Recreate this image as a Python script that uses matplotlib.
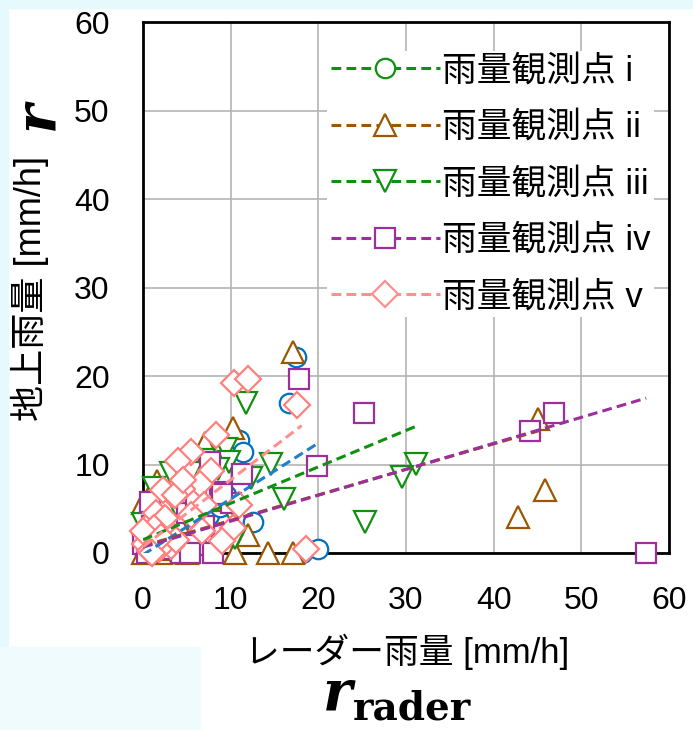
import matplotlib
matplotlib.use('Agg')
import matplotlib.pyplot as plt
from matplotlib.lines import Line2D
from matplotlib.patches import Rectangle

plt.rcParams['font.family'] = ['Liberation Sans', 'Noto Sans CJK JP']

# --- data (radar rain vs ground rain, mm/h) ---
labels = ['雨量観測点 i', '雨量観測点 ii', '雨量観測点 iii', '雨量観測点 iv', '雨量観測点 v']

x_i = [17.4, 16.6, 10.9, 11.4, 12.6, 20.0, 18.1, 7.5, 8.8, 0.2, 0.8, 1.5, 2.2, 3.0, 4.1, 5.0, 6.2, 0.5, 1.2, 2.8, 9.5]
y_i = [22.2, 16.9, 12.8, 11.4, 3.5, 0.4, 0.0, 4.3, 5.2, 0.0, 0.6, 1.2, 0.3, 2.0, 1.0, 2.5, 3.0, 1.8, 2.5, 0.5, 6.5]

x_ii = [17.1, 10.3, 45.1, 45.8, 42.8, 10.5, 14.3, 17.1, 5.0, 1.6, 0.0, 5.2, 7.1, 0.0, 1.0, 2.0, 3.0, 4.0, 6.0, 8.0, 0.5, 2.5, 12.0]
y_ii = [22.7, 14.1, 15.1, 7.1, 4.1, 0.0, 0.0, 0.0, 0.0, 8.1, 5.6, 9.2, 12.4, 0.0, 1.0, 0.0, 2.5, 3.5, 5.0, 6.0, 2.0, 0.5, 2.0]

x_iii = [11.7, 9.5, 9.8, 14.6, 12.3, 16.1, 9.9, 5.5, 3.2, 1.2, 0.0, 10.5, 31.1, 29.6, 25.3, 7.0, 2.0, 0.5, 4.0, 8.5, 1.5, 6.0, 0.0]
y_iii = [17.0, 11.7, 10.3, 10.1, 8.5, 6.1, 5.0, 9.0, 9.0, 7.4, 3.3, 1.7, 10.1, 8.6, 3.5, 10.5, 2.0, 1.0, 5.0, 9.5, 3.0, 4.0, 1.0]

x_iv = [17.8, 25.2, 19.8, 44.2, 46.9, 57.4, 11.3, 7.6, 8.8, 10.0, 6.1, 8.0, 4.3, 0.8, 0.0, 9.0, 2.0, 3.0, 1.0, 5.0, 7.0, 0.5, 2.5, 6.0, 5.4]
y_iv = [19.7, 15.8, 9.8, 13.8, 15.8, 0.0, 8.9, 10.3, 6.9, 5.6, 0.9, 0.0, 0.0, 5.8, 1.0, 6.7, 0.5, 1.5, 3.0, 4.5, 3.0, 0.0, 2.0, 6.0, 0.0]

x_v = [10.4, 12.0, 17.6, 8.3, 5.5, 4.0, 7.8, 6.5, 4.5, 3.3, 7.0, 11.0, 5.5, 6.7, 10.3, 9.0, 18.6, 2.3, 3.6, 4.6,
       1.0, 1.5, 2.0, 0.5, 0.2, 2.8, 3.2, 1.8, 0.8, 2.5, 1.2, 0.0, 3.8, 2.0, 1.0]
y_v = [19.2, 19.7, 16.7, 13.3, 11.4, 10.4, 9.3, 7.8, 7.2, 6.7, 5.4, 5.4, 4.3, 2.5, 2.8, 1.4, 0.4, 7.1, 6.5, 8.2,
       3.5, 4.5, 3.0, 2.0, 1.0, 2.2, 0.8, 0.5, 0.2, 4.0, 2.8, 2.5, 1.5, 1.8, 0.0]

# trend lines, end points
trend_x = [[0, 19.8], [0, 45.8], [0, 31.1], [0, 57.4], [0, 18.1]]
trend_y = [[-0.2, 12.3], [0.8, 14.0], [1.5, 14.3], [0.66, 17.5], [0.7, 14.4]]

xs = [x_i, x_ii, x_iii, x_iv, x_v]
ys = [y_i, y_ii, y_iii, y_iv, y_v]
markers = ['o', '^', 'v', 's', 'D']
msizes = [14, 16.5, 16.5, 15, 13.5]
pt_colors = ['#0070c0', '#9c5700', '#109010', '#9b2f9b', '#ff7f7f']
line_colors = ['#1f7fc8', '#9c5700', '#109010', '#9b2f9b', '#ff8f8f']
leg_colors = ['#109010', '#9c5700', '#109010', '#9b2f9b', '#ff8f8f']
dash = (0, (3.2, 1.7))

fig = plt.figure(figsize=(6.93, 7.3), dpi=100)
bg = '#e6f9fc'
fig.patches.append(Rectangle((0, 0), 8 / 693, 1, transform=fig.transFigure, color=bg, zorder=-5))
fig.patches.append(Rectangle((0, 722 / 730), 1, 8 / 730, transform=fig.transFigure, color=bg, zorder=-5))
fig.patches.append(Rectangle((0, 0), 200 / 693, 83 / 730, transform=fig.transFigure, color='#f0fbfd', zorder=-5))

ax = fig.add_axes([143 / 693, 1 - 553 / 730, 526 / 693, 531 / 730])

for k in range(5):
    ax.plot(xs[k], ys[k], ls='none', marker=markers[k], ms=msizes[k], mfc='white',
            mec=pt_colors[k], mew=1.6, clip_on=False, zorder=3 + k)
for k in range(5):
    ax.plot(trend_x[k], trend_y[k], color=line_colors[k], lw=2.2, ls=dash, zorder=9)

ax.set_xlim(0, 60)
ax.set_ylim(0, 60)
ax.set_xticks(range(0, 61, 10))
ax.set_yticks(range(0, 61, 10))
ax.tick_params(length=0, labelsize=23, pad=24)
ax.grid(color='#b4b4b4', lw=1.2)
ax.set_axisbelow(True)
for s in ax.spines.values():
    s.set_linewidth(2)
    s.set_color('black')

handles = [Line2D([], [], color=leg_colors[k], lw=2.2, ls=dash, marker=markers[k], ms=msizes[k],
                  mfc='white', mec=leg_colors[k], mew=1.6) for k in range(5)]
leg = ax.legend(handles, labels, loc='upper left', bbox_to_anchor=(0.35, 0.946), fontsize=25,
                handlelength=3.15, handletextpad=0.05, labelspacing=0.68, borderpad=0.1,
                borderaxespad=0, frameon=True, fancybox=False, framealpha=1, edgecolor='none')

fig.text(30 / 693, 1 - 288 / 730, '地上雨量 [mm/h]', rotation=90, fontsize=26, ha='center', va='center')
fig.text(37 / 693, 1 - 115 / 730, 'r', rotation=90, fontsize=40, family='DejaVu Serif',
         style='italic', weight='bold', ha='center', va='center')
fig.text(407 / 693, 1 - 652 / 730, 'レーダー雨量 [mm/h]', fontsize=25, ha='center', va='center')
fig.text(338 / 693, 1 - 709 / 730, 'r', fontsize=40, family='DejaVu Serif', style='italic',
         weight='bold', ha='center', va='baseline')
fig.text(353 / 693, 1 - 719 / 730, 'rader', fontsize=28, family='DejaVu Serif', weight='bold',
         ha='left', va='baseline')

fig.savefig('out.png', dpi=100)
